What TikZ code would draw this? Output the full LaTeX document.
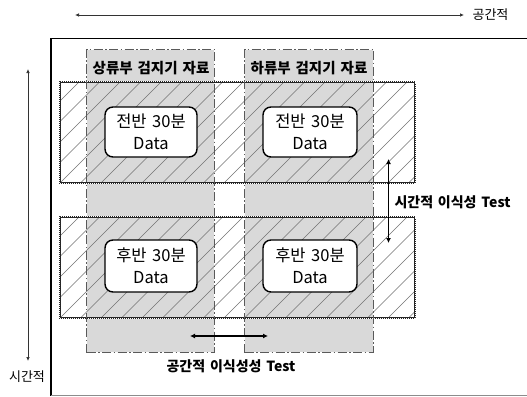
\documentclass[tikz,border=0pt]{standalone}
\usepackage{fontspec}
\setmainfont{Noto Sans CJK KR}[WordSpace=1.5]
\usetikzlibrary{arrows.meta}
\definecolor{colgray}{HTML}{D9D9D9}
\definecolor{dashgray}{HTML}{5A5A5A}
\tikzset{
  colbox/.style={draw=dashgray, line width=1pt, fill=colgray,
    dash pattern=on 9pt off 2.5pt on 1.5pt off 2.5pt, inner sep=0pt},
  rowbox/.style={inner sep=0pt},
  databox/.style={draw=black, line width=1.4pt, fill=white, rounded corners=8pt,
    align=center, font=\fontsize{16.5}{22}\selectfont, inner sep=0pt},
  hdr/.style={font=\bfseries\fontsize{14.5}{16}\selectfont},
  lbl/.style={font=\bfseries\fontsize{14}{16}\selectfont},
  axl/.style={font=\fontsize{13}{15}\selectfont},
  axarr/.style={draw=black!80, line width=0.7pt, {Latex[length=4pt,width=3.5pt]}-{Latex[length=4pt,width=3.5pt]}},
  testarr/.style={draw=black, line width=1.6pt, {Latex[length=5pt,width=5pt]}-{Latex[length=5pt,width=5pt]}},
  hatch/.style={draw=black!55, line width=0.45pt},
}
\begin{document}
\begin{tikzpicture}[x=1pt,y=-1pt]
\useasboundingbox (0,0) rectangle (527,396);
\fill[white] (0,0) rectangle (527,396);
% frame
\draw[black, line width=1.2pt] (530,38.5) -- (51,38.5) -- (51,395.5);
\draw[black!45, line width=1.2pt] (51,395.5) -- (530,395.5);
% columns (fill)
\node[colbox, draw=none, minimum width=127pt, minimum height=302pt] (col1) at (150.5,201) {};
\node[colbox, draw=none, minimum width=128pt, minimum height=302pt] (col2) at (309,201) {};
% rows
\node[rowbox, minimum width=355pt, minimum height=101pt] (row1) at (237.5,132.5) {};
\node[rowbox, minimum width=355pt, minimum height=101pt] (row2) at (237.5,267.5) {};
% hatching
\foreach \r in {row1,row2}{
  \begin{scope}
    \clip (\r.north west) rectangle (\r.south east);
    \foreach \k in {-6,...,20}{
      \draw[hatch] ([xshift=\k*20.5pt]\r.south west) -- ++(101,-101);
    }
  \end{scope}
}
% row borders
\foreach \r in {row1,row2}{
  \draw[black!85, line width=2pt] (\r.north west) rectangle (\r.south east);
  \draw[white, line width=0.7pt, dash pattern=on 0.9pt off 1.1pt] (\r.north west) rectangle (\r.south east);
}
% column borders
\draw[colbox, fill=none] (col1.south west) -- (col1.north west) -- (col1.north east) -- (col1.south east);
\draw[colbox, fill=none] (col2.south west) -- (col2.north west) -- (col2.north east) -- (col2.south east);
\draw[colbox, fill=none] (col1.south west) -- (col1.south east);
\draw[colbox, fill=none] (col2.south west) -- (col2.south east);
% headers
\node[hdr] (h1) at (151,68.5) {상류부 검지기 자료};
\node[hdr] (h2) at (309,68.5) {하류부 검지기 자료};
% data boxes
\node[databox, minimum width=92pt, minimum height=50pt] (d1) at (151,132) {전반 30분\\Data};
\node[databox, minimum width=94pt, minimum height=50pt] (d2) at (310,132) {전반 30분\\Data};
\node[databox, minimum width=92pt, minimum height=52pt] (d3) at (151,266) {후반 30분\\Data};
\node[databox, minimum width=94pt, minimum height=52pt] (d4) at (310,266) {후반 30분\\Data};
% axes
\coordinate (tA) at (75,15);
\coordinate (tB) at (464,15);
\draw[axarr] (tA) -- (tB);
\node[axl, anchor=west] (tl) at (469,15) {공간적};
\coordinate (lA) at (28,69);
\coordinate (lB) at (28,361);
\draw[axarr] (lA) -- (lB);
\node[axl] (ll) at (27,377) {시간적};
% test arrows
\coordinate (vA) at (388.5,159);
\coordinate (vB) at (388.5,243);
\draw[testarr] (vA) -- (vB);
\node[lbl, anchor=west] (vl) at (391,202) {시간적 이식성 Test};
\coordinate (hA) at (190,336);
\coordinate (hB) at (268,336);
\draw[testarr] (hA) -- (hB);
\node[lbl] (hl) at (231,366) {공간적 이식성성 Test};
\end{tikzpicture}
\end{document}
